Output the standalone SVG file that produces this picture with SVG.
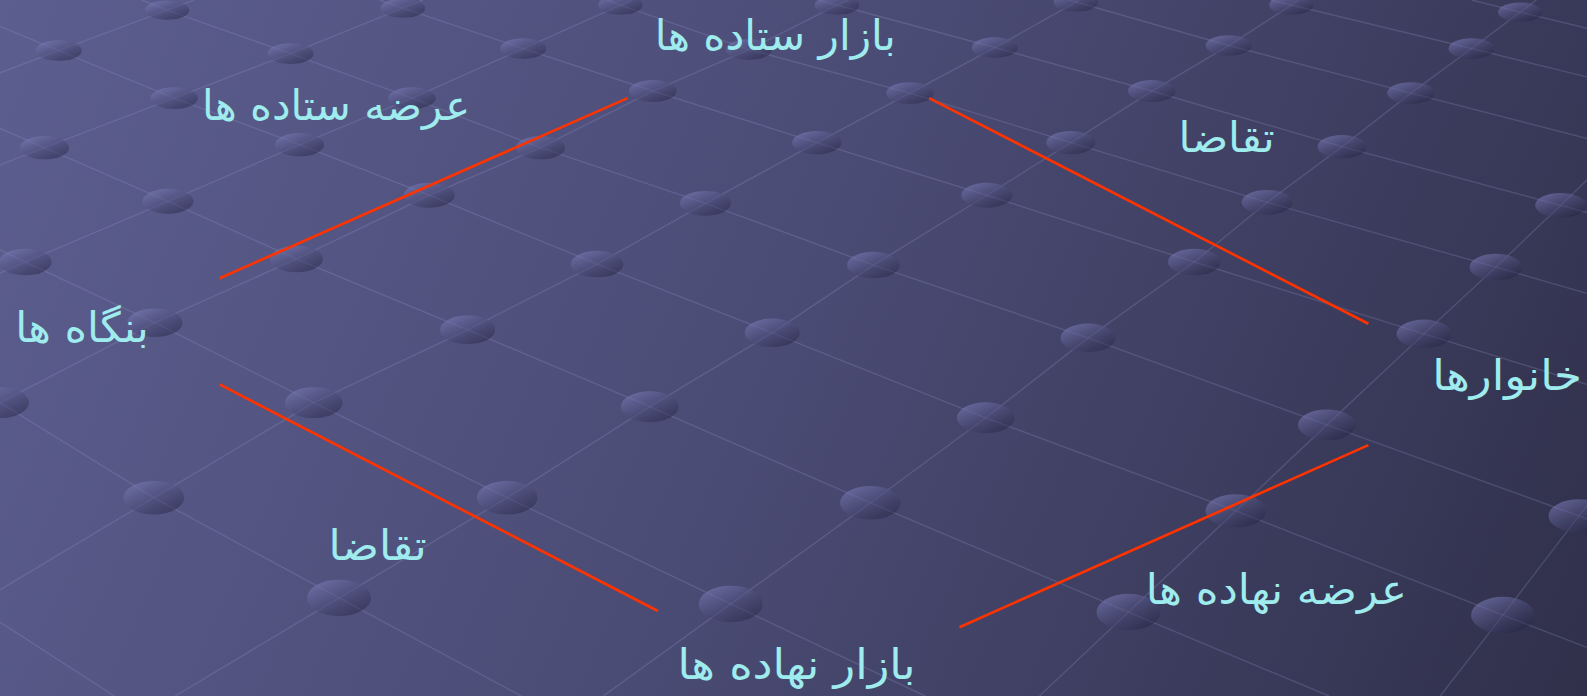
<svg xmlns="http://www.w3.org/2000/svg" width="1587" height="696" viewBox="0 0 1587 696">
<defs>
<linearGradient id="bg" x1="0" y1="0" x2="1587" y2="696" gradientUnits="userSpaceOnUse">
<stop offset="0" stop-color="#5c5e8f"/>
<stop offset="0.5" stop-color="#4a4b74"/>
<stop offset="1" stop-color="#30304b"/>
</linearGradient>
<linearGradient id="dot" x1="0.15" y1="0.1" x2="0.85" y2="0.95">
<stop offset="0" stop-color="#7a7cb8" stop-opacity="0.6"/>
<stop offset="1" stop-color="#1e1e3a" stop-opacity="0.45"/>
</linearGradient>
<style>
.g{fill:none;stroke:#9a9cd0;stroke-opacity:0.24;stroke-width:1.4}
.d{fill:url(#dot)}
.r{stroke:#ff3300;stroke-width:2.6;fill:none}
.t{font-family:'DejaVu Sans',sans-serif;font-size:41px;fill:#9eecee;text-anchor:middle}
</style>
</defs>
<rect width="1587" height="696" fill="url(#bg)"/>
<g transform="scale(1.01212,1.01163)">
<g id="grid">
<polyline class="g" points="1454,0 1502,12 1568,28"/>
<polyline class="g" points="1255,0 1276,5 1454,48 1568,76"/>
<polyline class="g" points="1056,0 1063,2 1214,45 1394,92 1568,137"/>
<polyline class="g" points="808,0 827,5 983,47 1138,90 1326,145 1542,203 1568,210"/>
<polyline class="g" points="600,0 613,5 740,49 899,92 1058,141 1252,200 1478,264 1568,290"/>
<polyline class="g" points="375,0 398,8 517,48 645,90 807,141 975,193 1180,259 1407,330 1568,380"/>
<polyline class="g" points="140,0 165,10 287,53 407,97 534,146 697,201 863,262 1075,334 1311,420 1560,510 1568,513"/>
<polyline class="g" points="0,26 58,50 172,97 296,143 424,193 590,261 763,329 974,413 1221,505 1485,608 1568,640"/>
<polyline class="g" points="0,127 44,146 166,199 293,256 462,326 642,402 860,497 1115,605 1313,688"/>
<polyline class="g" points="0,247 25,259 153,319 310,398 501,492 722,597 914,688"/>
<polyline class="g" points="0,398 152,492 335,591 515,688"/>
<polyline class="g" points="0,615 113,688"/>
<polyline class="g" points="192,0 165,10 58,50 0,72"/>
<polyline class="g" points="418,0 398,8 287,53 172,97 44,146 0,163"/>
<polyline class="g" points="624,0 613,5 517,48 407,97 296,143 166,199 25,259 0,270"/>
<polyline class="g" points="838,0 827,5 740,49 645,90 534,146 424,193 293,256 153,319 0,398"/>
<polyline class="g" points="1066,0 1063,2 983,47 899,92 807,141 697,201 590,261 462,326 310,398 152,492 0,583"/>
<polyline class="g" points="1283,0 1276,5 1214,45 1138,90 1058,141 975,193 863,262 763,329 642,402 501,492 335,591 173,688"/>
<polyline class="g" points="1518,0 1502,12 1454,48 1394,92 1326,145 1252,200 1180,259 1075,334 974,413 860,497 722,597 596,688"/>
<polyline class="g" points="1568,178 1542,203 1478,264 1407,330 1311,420 1221,505 1115,605 1027,688"/>
<polyline class="g" points="1568,500 1560,510 1485,608 1423,688"/>
</g>
<g id="dots">
<ellipse class="d" cx="165" cy="10" rx="22" ry="9.6"/>
<ellipse class="d" cx="58" cy="50" rx="22.8" ry="10.2"/>
<ellipse class="d" cx="398" cy="8" rx="22" ry="9.6"/>
<ellipse class="d" cx="287" cy="53" rx="22.8" ry="10.2"/>
<ellipse class="d" cx="172" cy="97" rx="23.5" ry="10.8"/>
<ellipse class="d" cx="44" cy="146" rx="24.3" ry="11.5"/>
<ellipse class="d" cx="613" cy="5" rx="22" ry="9.6"/>
<ellipse class="d" cx="517" cy="48" rx="22.8" ry="10.2"/>
<ellipse class="d" cx="407" cy="97" rx="23.5" ry="10.8"/>
<ellipse class="d" cx="296" cy="143" rx="24.3" ry="11.5"/>
<ellipse class="d" cx="166" cy="199" rx="25.2" ry="12.3"/>
<ellipse class="d" cx="25" cy="259" rx="26.1" ry="13.1"/>
<ellipse class="d" cx="827" cy="5" rx="22" ry="9.6"/>
<ellipse class="d" cx="740" cy="49" rx="22.8" ry="10.2"/>
<ellipse class="d" cx="645" cy="90" rx="23.5" ry="10.8"/>
<ellipse class="d" cx="534" cy="146" rx="24.3" ry="11.5"/>
<ellipse class="d" cx="424" cy="193" rx="25.2" ry="12.3"/>
<ellipse class="d" cx="293" cy="256" rx="26.1" ry="13.1"/>
<ellipse class="d" cx="153" cy="319" rx="27.2" ry="14.1"/>
<ellipse class="d" cx="0" cy="398" rx="28.5" ry="15.3"/>
<ellipse class="d" cx="1063" cy="2" rx="22" ry="9.6"/>
<ellipse class="d" cx="983" cy="47" rx="22.8" ry="10.2"/>
<ellipse class="d" cx="899" cy="92" rx="23.5" ry="10.8"/>
<ellipse class="d" cx="807" cy="141" rx="24.3" ry="11.5"/>
<ellipse class="d" cx="697" cy="201" rx="25.2" ry="12.3"/>
<ellipse class="d" cx="590" cy="261" rx="26.1" ry="13.1"/>
<ellipse class="d" cx="462" cy="326" rx="27.2" ry="14.1"/>
<ellipse class="d" cx="310" cy="398" rx="28.5" ry="15.3"/>
<ellipse class="d" cx="152" cy="492" rx="30" ry="16.5"/>
<ellipse class="d" cx="1276" cy="5" rx="22" ry="9.6"/>
<ellipse class="d" cx="1214" cy="45" rx="22.8" ry="10.2"/>
<ellipse class="d" cx="1138" cy="90" rx="23.5" ry="10.8"/>
<ellipse class="d" cx="1058" cy="141" rx="24.3" ry="11.5"/>
<ellipse class="d" cx="975" cy="193" rx="25.2" ry="12.3"/>
<ellipse class="d" cx="863" cy="262" rx="26.1" ry="13.1"/>
<ellipse class="d" cx="763" cy="329" rx="27.2" ry="14.1"/>
<ellipse class="d" cx="642" cy="402" rx="28.5" ry="15.3"/>
<ellipse class="d" cx="501" cy="492" rx="30" ry="16.5"/>
<ellipse class="d" cx="335" cy="591" rx="31.6" ry="18"/>
<ellipse class="d" cx="1502" cy="12" rx="22" ry="9.6"/>
<ellipse class="d" cx="1454" cy="48" rx="22.8" ry="10.2"/>
<ellipse class="d" cx="1394" cy="92" rx="23.5" ry="10.8"/>
<ellipse class="d" cx="1326" cy="145" rx="24.3" ry="11.5"/>
<ellipse class="d" cx="1252" cy="200" rx="25.2" ry="12.3"/>
<ellipse class="d" cx="1180" cy="259" rx="26.1" ry="13.1"/>
<ellipse class="d" cx="1075" cy="334" rx="27.2" ry="14.1"/>
<ellipse class="d" cx="974" cy="413" rx="28.5" ry="15.3"/>
<ellipse class="d" cx="860" cy="497" rx="30" ry="16.5"/>
<ellipse class="d" cx="722" cy="597" rx="31.6" ry="18"/>
<ellipse class="d" cx="1542" cy="203" rx="25.2" ry="12.3"/>
<ellipse class="d" cx="1478" cy="264" rx="26.1" ry="13.1"/>
<ellipse class="d" cx="1407" cy="330" rx="27.2" ry="14.1"/>
<ellipse class="d" cx="1311" cy="420" rx="28.5" ry="15.3"/>
<ellipse class="d" cx="1221" cy="505" rx="30" ry="16.5"/>
<ellipse class="d" cx="1115" cy="605" rx="31.6" ry="18"/>
<ellipse class="d" cx="1560" cy="510" rx="30" ry="16.5"/>
<ellipse class="d" cx="1485" cy="608" rx="31.6" ry="18"/>
</g>
<g id="connectors">
<line class="r" x1="217" y1="275" x2="620" y2="97"/>
<line class="r" x1="918" y1="97" x2="1352" y2="320"/>
<line class="r" x1="217" y1="380" x2="650" y2="604"/>
<line class="r" x1="948" y1="620" x2="1352" y2="440"/>
</g>
<g id="n-output-market"><text class="t" x="766" y="49" textLength="238" lengthAdjust="spacingAndGlyphs">بازار ستاده ها</text></g>
<g id="n-output-supply"><text class="t" x="332" y="119" textLength="265" lengthAdjust="spacingAndGlyphs">عرضه ستاده ها</text></g>
<g id="n-demand-top"><text class="t" x="1212" y="150" textLength="95" lengthAdjust="spacingAndGlyphs">تقاضا</text></g>
<g id="n-firms"><text class="t" x="81" y="338" textLength="132" lengthAdjust="spacingAndGlyphs">بنگاه ها</text></g>
<g id="n-households"><text class="t" x="1489" y="386" textLength="148" lengthAdjust="spacingAndGlyphs">خانوارها</text></g>
<g id="n-demand-bottom"><text class="t" x="373" y="554" textLength="97" lengthAdjust="spacingAndGlyphs">تقاضا</text></g>
<g id="n-input-supply"><text class="t" x="1261" y="597" textLength="258" lengthAdjust="spacingAndGlyphs">عرضه نهاده ها</text></g>
<g id="n-input-market"><text class="t" x="787" y="671" textLength="235" lengthAdjust="spacingAndGlyphs">بازار نهاده ها</text></g>
</g>
</svg>
